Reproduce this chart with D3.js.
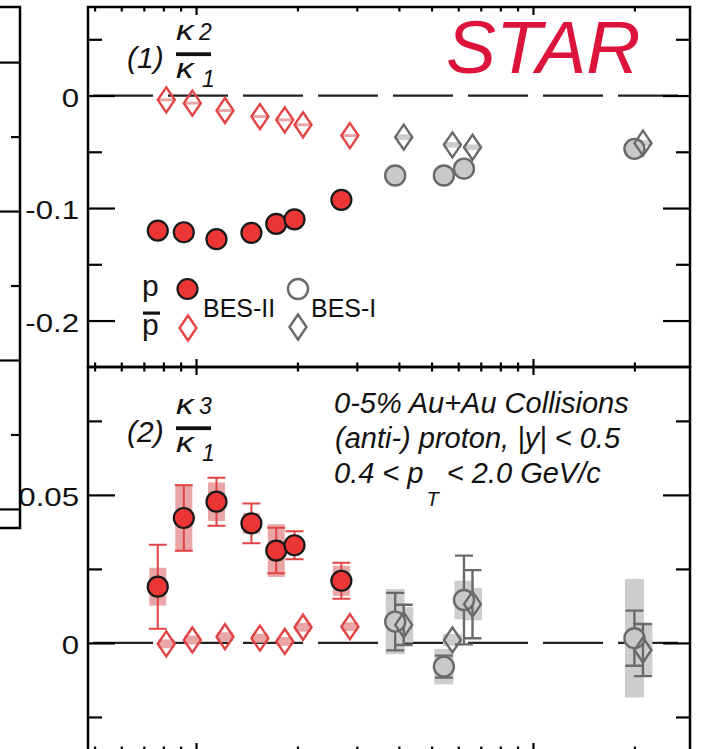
<!DOCTYPE html>
<html>
<head>
<meta charset="utf-8">
<script src="https://cdn.jsdelivr.net/npm/d3@7"></script>
<style>
  html, body { margin: 0; padding: 0; background: #fff; }
  svg { display: block; font-family: "Liberation Sans", Arial, Helvetica, sans-serif; }
</style>
</head>
<body>
<svg id="chart" width="705" height="749"></svg>
<script>
// ---- collision energies, sqrt(s_NN) in GeV ----
const energyBES2 = [7.7, 9.2, 11.5, 14.6, 17.3, 19.6, 27];
const energyBES1 = [39, 54.4, 62.4, 200];
const pbarShift = 1.06;            // antiproton points are drawn slightly to the right

// ---- kappa2 / kappa1 ----
const k21ProtonBES2 = [-0.1200, -0.1215, -0.1277, -0.1220, -0.1140, -0.1100, -0.0927];
const k21PbarBES2   = [-0.0038, -0.0068, -0.0133, -0.0187, -0.0216, -0.0260, -0.0356];
const k21PbarBES2Sys = [0.0013, 0.0013, 0.0013, 0.0013, 0.0013, 0.0013, 0.0013];
const k21ProtonBES1 = [-0.0711, -0.0711, -0.0650, -0.0474];
const k21PbarBES1   = [-0.0370, -0.0438, -0.0460, -0.0423];
const k21PbarBES1Sys = [0.0025, 0.0025, 0.0025, 0.0025];

// ---- kappa3 / kappa1 ----
const k31ProtonBES2     = [0.0190, 0.0422, 0.0477, 0.0404, 0.0312, 0.0330, 0.0210];
const k31ProtonBES2Stat = [0.0142, 0.0111, 0.0081, 0.0067, 0.0077, 0.0047, 0.0061];
const k31ProtonBES2Sys  = [0.0064, 0.0113, 0.0065, 0.0035, 0.0089, 0.0020, 0.0051];
const k31PbarBES2       = [-0.0003, 0.0010, 0.0021, 0.0016, 0.0005, 0.0053, 0.0055];
const k31PbarBES2Sys    = [0.0015, 0.0015, 0.0015, 0.0015, 0.0015, 0.0015, 0.0015];
const k31ProtonBES1     = [0.0072, -0.0080, 0.0145, 0.0016];
const k31ProtonBES1Stat = [0.0097, 0.0037, 0.0150, 0.0093];
const k31ProtonBES1Sys  = [0.0110, 0.0060, 0.0065, 0.0200];
const k31PbarBES1       = [0.0061, 0.0010, 0.0131, -0.0024];
const k31PbarBES1Stat   = [0.0068, 0, 0.0115, 0.0088];
const k31PbarBES1Sys    = [0.0060, 0.0020, 0.0055, 0.0090];

// ---- axis ticks ----
const xMajorTicks = [10, 100];
const xMinorTicks = [5, 6, 7, 8, 9, 20, 30, 40, 50, 60, 70, 80, 90, 200];
const topMajorTicks = [0, -0.1, -0.2];
const topTickLabels = ["0", "-0.1", "-0.2"];
const topMinorTicks = [0.05, -0.05, -0.15];
const botMajorTicks = [0, 0.05];
const botTickLabels = ["0", "0.05"];
const botMinorTicks = [-0.025, 0.025, 0.075];
const sideMajorTicks = [0.1, 0, -0.1, -0.2];
const sideMinorTicks = [0.05, -0.05, -0.15];

// ---- colours ----
const RED = "#ec3636", RED_LINE = "#e24444", RED_SYS = "#eaa6a6";
const GREY_FILL = "#c9c9c9", GREY_LINE = "#6a6a6a", GREY_SYS = "#cdcdcd";

// ---- geometry ----
const plotLeft = 88, plotRight = 690, plotTop = 7, plotMid = 367, plotBottom = 751;

const x = d3.scaleLog().domain([4.78, 292.4]).range([plotLeft, plotRight]);
const yTop = d3.scaleLinear().domain([-0.2413, 0.0787]).range([plotMid, plotTop]);
const yBot = d3.scaleLinear().domain([-0.0365, 0.0932]).range([plotBottom, plotMid]);
const ySide = d3.scaleLinear().domain([-0.2128, 0.137]).range([528, plotTop]);

const svg = d3.select("#chart");

const diamond = "M0,-12.5L8.5,0L0,12.5L-8.5,0Z";

// ---------- zero reference lines ----------
[yTop, yBot].forEach(y => {
  svg.append("line")
    .attr("x1", plotLeft).attr("x2", plotRight)
    .attr("y1", y(0)).attr("y2", y(0))
    .attr("stroke", "#222").attr("stroke-width", 2.2)
    .attr("stroke-dasharray", "60 15").attr("stroke-dashoffset", 70);
});

// ---------- helpers ----------
function sysBoxes(g, xs, ys, sys, y, w, color) {
  g.selectAll(null).data(xs.map((e, i) => ({ e, v: ys[i], s: sys[i] })))
    .join("rect")
    .attr("x", d => x(d.e) - w / 2).attr("width", w)
    .attr("y", d => y(d.v + d.s)).attr("height", d => y(d.v - d.s) - y(d.v + d.s))
    .attr("fill", color);
}
function statBars(g, xs, ys, err, y, color, sw) {
  const data = xs.map((e, i) => ({ e, v: ys[i], s: err[i] })).filter(d => d.s > 0);
  const cap = 9;
  const gg = g.append("g").attr("stroke", color).attr("stroke-width", sw).attr("fill", "none");
  gg.selectAll(null).data(data).join("path")
    .attr("d", d => {
      const cx = x(d.e), y1 = y(d.v + d.s), y2 = y(d.v - d.s);
      return `M${cx},${y1}V${y2}M${cx - cap},${y1}H${cx + cap}M${cx - cap},${y2}H${cx + cap}`;
    });
}
function circles(g, xs, ys, y, fill, stroke, sw) {
  g.selectAll(null).data(xs.map((e, i) => ({ e, v: ys[i] })))
    .join("circle")
    .attr("cx", d => x(d.e)).attr("cy", d => y(d.v)).attr("r", 10)
    .attr("fill", fill).attr("stroke", stroke).attr("stroke-width", sw);
}
function diamonds(g, xs, ys, y, stroke) {
  g.selectAll(null).data(xs.map((e, i) => ({ e, v: ys[i] })))
    .join("path")
    .attr("d", diamond)
    .attr("transform", d => `translate(${x(d.e)},${y(d.v)})`)
    .attr("fill", "none").attr("stroke", stroke).attr("stroke-width", 2.4);
}

const pbarE2 = energyBES2.map(e => e * pbarShift);
const pbarE1 = energyBES1.map(e => e * pbarShift);

// ---------- panel (1): kappa2/kappa1 ----------
const g1 = svg.append("g");
sysBoxes(g1, pbarE1, k21PbarBES1, k21PbarBES1Sys, yTop, 18, GREY_SYS);
sysBoxes(g1, pbarE2, k21PbarBES2, k21PbarBES2Sys, yTop, 16, RED_SYS);
circles(g1, energyBES1, k21ProtonBES1, yTop, GREY_FILL, GREY_LINE, 2.4);
diamonds(g1, pbarE1, k21PbarBES1, yTop, GREY_LINE);
circles(g1, energyBES2, k21ProtonBES2, yTop, RED, "#1a1a1a", 2.2);
diamonds(g1, pbarE2, k21PbarBES2, yTop, RED_LINE);

// ---------- panel (2): kappa3/kappa1 ----------
const g2 = svg.append("g");
sysBoxes(g2, energyBES1, k31ProtonBES1, k31ProtonBES1Sys, yBot, 19, GREY_SYS);
sysBoxes(g2, pbarE1, k31PbarBES1, k31PbarBES1Sys, yBot, 19, GREY_SYS);
sysBoxes(g2, energyBES2, k31ProtonBES2, k31ProtonBES2Sys, yBot, 17, RED_SYS);
sysBoxes(g2, pbarE2, k31PbarBES2, k31PbarBES2Sys, yBot, 16, RED_SYS);
statBars(g2, energyBES1, k31ProtonBES1, k31ProtonBES1Stat, yBot, GREY_LINE, 2.4);
statBars(g2, pbarE1, k31PbarBES1, k31PbarBES1Stat, yBot, GREY_LINE, 2.4);
statBars(g2, energyBES2, k31ProtonBES2, k31ProtonBES2Stat, yBot, RED_LINE, 2);
circles(g2, energyBES1, k31ProtonBES1, yBot, GREY_FILL, GREY_LINE, 2.4);
diamonds(g2, pbarE1, k31PbarBES1, yBot, GREY_LINE);
circles(g2, energyBES2, k31ProtonBES2, yBot, RED, "#1a1a1a", 2.2);
diamonds(g2, pbarE2, k31PbarBES2, yBot, RED_LINE);

// ---------- axes ----------
const LABEL_SCALE = 1.2;
function styleAxis(g) {
  g.attr("font-family", null).attr("font-size", null);
  g.select(".domain").remove();
  g.selectAll(".tick line").attr("stroke", "#000").attr("stroke-width", 2.2);
}
function yAxes(y, major, labels, minor) {
  const gl = svg.append("g").attr("transform", `translate(${plotLeft},0)`)
    .call(d3.axisLeft(y).tickValues(major).tickSize(-27).tickPadding(9).tickFormat((d, i) => labels[i]));
  styleAxis(gl);
  gl.selectAll(".tick text")
    .attr("fill", "#111").attr("font-size", 26)
    .attr("x", -9 / LABEL_SCALE).attr("dy", "0.42em")
    .attr("transform", `scale(${LABEL_SCALE},1)`);
  const glm = svg.append("g").attr("transform", `translate(${plotLeft},0)`)
    .call(d3.axisLeft(y).tickValues(minor).tickSize(-14).tickFormat(""));
  styleAxis(glm);
  const gr = svg.append("g").attr("transform", `translate(${plotRight},0)`)
    .call(d3.axisRight(y).tickValues(major).tickSize(-27).tickFormat(""));
  styleAxis(gr);
  const grm = svg.append("g").attr("transform", `translate(${plotRight},0)`)
    .call(d3.axisRight(y).tickValues(minor).tickSize(-14).tickFormat(""));
  styleAxis(grm);
}
yAxes(yTop, topMajorTicks, topTickLabels, topMinorTicks);
yAxes(yBot, botMajorTicks, botTickLabels, botMinorTicks);

function xTicks(axisFn, ypos) {
  const a = svg.append("g").attr("transform", `translate(0,${ypos})`)
    .call(axisFn(x).tickValues(xMajorTicks).tickSize(-8).tickFormat(""));
  styleAxis(a);
  const b = svg.append("g").attr("transform", `translate(0,${ypos})`)
    .call(axisFn(x).tickValues(xMinorTicks).tickSize(-4.5).tickFormat(""));
  styleAxis(b);
}
xTicks(d3.axisTop, plotTop);
xTicks(d3.axisBottom, plotMid);
xTicks(d3.axisTop, plotMid);
xTicks(d3.axisBottom, plotBottom);

// ---------- frames ----------
svg.append("rect").attr("x", plotLeft).attr("y", plotTop)
  .attr("width", plotRight - plotLeft).attr("height", plotMid - plotTop)
  .attr("fill", "none").attr("stroke", "#000").attr("stroke-width", 2.5);
svg.append("rect").attr("x", plotLeft).attr("y", plotMid)
  .attr("width", plotRight - plotLeft).attr("height", plotBottom - plotMid)
  .attr("fill", "none").attr("stroke", "#000").attr("stroke-width", 2.5);

// neighbouring panel on the left edge
svg.append("rect").attr("x", -10).attr("y", plotTop).attr("width", 30).attr("height", 528 - plotTop)
  .attr("fill", "#fff").attr("stroke", "#000").attr("stroke-width", 2.5);
const side = svg.append("g").attr("transform", "translate(20,0)");
side.call(d3.axisRight(ySide).tickValues(sideMajorTicks).tickSize(-22).tickFormat(""));
styleAxis(side);
const sideMinor = svg.append("g").attr("transform", "translate(20,0)");
sideMinor.call(d3.axisRight(ySide).tickValues(sideMinorTicks).tickSize(-9).tickFormat(""));
styleAxis(sideMinor);

// ---------- panel titles ----------
function kappa(g, px, py) {
  // wide, low kappa glyph
  g.append("text").attr("transform", `translate(${px},${py}) scale(1.3,1)`)
    .attr("font-size", 27).text("κ");
}
function ratioLabel(index, num, dy) {
  const g = svg.append("g").attr("font-style", "italic").attr("fill", "#111");
  g.append("text").attr("x", 127).attr("y", 68 + dy).attr("font-size", 30).text(`(${index})`);
  kappa(g, 176, 40 + dy);
  g.append("text").attr("x", 199).attr("y", 40 + dy).attr("font-size", 23).text(num);
  g.append("rect").attr("x", 176).attr("y", 52.3 + dy).attr("width", 35).attr("height", 3.8).attr("fill", "#111");
  kappa(g, 176, 78 + dy);
  g.append("text").attr("x", 202).attr("y", 87 + dy).attr("font-size", 23).text("1");
}
ratioLabel(1, "2", 0);
ratioLabel(2, "3", 374);

svg.append("text").attr("x", 446).attr("y", 73)
  .attr("font-size", 75).attr("font-style", "italic").attr("fill", "#dc143c").text("STAR");

// ---------- legend ----------
const lg = svg.append("g");
lg.append("text").attr("x", 142).attr("y", 296).attr("font-size", 30).attr("fill", "#111").text("p");
lg.append("text").attr("x", 142).attr("y", 335).attr("font-size", 30).attr("fill", "#111").text("p");
lg.append("rect").attr("x", 143).attr("y", 311.5).attr("width", 17).attr("height", 3.2).attr("fill", "#111");
lg.append("circle").attr("cx", 187.5).attr("cy", 289).attr("r", 10)
  .attr("fill", RED).attr("stroke", "#1a1a1a").attr("stroke-width", 2.2);
lg.append("path").attr("d", diamond).attr("transform", "translate(188,328)")
  .attr("fill", "none").attr("stroke", RED_LINE).attr("stroke-width", 2.4);
lg.append("text").attr("x", 203).attr("y", 317).attr("font-size", 25).attr("fill", "#111").text("BES-II");
lg.append("circle").attr("cx", 298).attr("cy", 289).attr("r", 10)
  .attr("fill", "#fff").attr("stroke", GREY_LINE).attr("stroke-width", 2.4);
lg.append("path").attr("d", diamond).attr("transform", "translate(298,327)")
  .attr("fill", "none").attr("stroke", GREY_LINE).attr("stroke-width", 2.4);
lg.append("text").attr("x", 311).attr("y", 317).attr("font-size", 25).attr("fill", "#111").text("BES-I");

// ---------- selection notes ----------
const notes = svg.append("g").attr("font-style", "italic").attr("font-size", 29).attr("fill", "#111");
notes.append("text").attr("x", 334).attr("y", 413).text("0-5% Au+Au Collisions");
notes.append("text").attr("x", 335).attr("y", 448).text("(anti-) proton, |y| < 0.5");
const l3 = notes.append("text").attr("x", 334).attr("y", 483);
l3.append("tspan").text("0.4 < p");
l3.append("tspan").attr("dx", 3).attr("dy", 23).attr("font-size", 20).text("T");
l3.append("tspan").attr("dy", -23).text(" < 2.0 GeV/c");
</script>
</body>
</html>
